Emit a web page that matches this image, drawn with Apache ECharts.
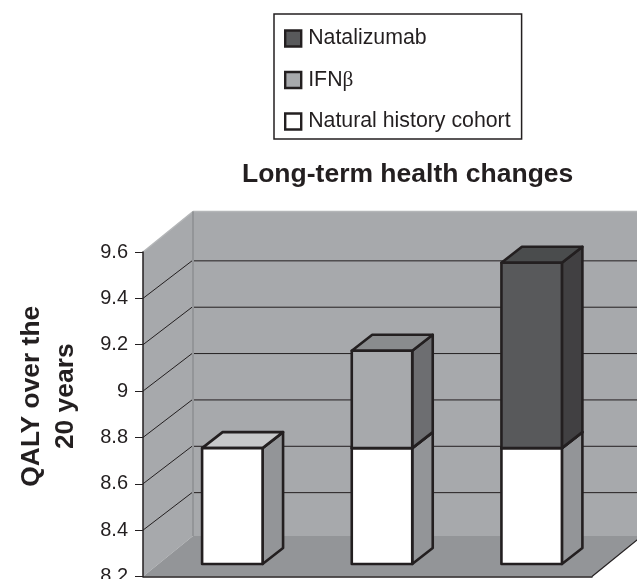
<!DOCTYPE html>
<html>
<head>
<meta charset="utf-8">
<style>html,body{margin:0;padding:0;background:#fff}#c{width:637px;height:579px}</style>
<script src="https://cdn.jsdelivr.net/npm/echarts@6/dist/echarts.min.js"></script>
</head>
<body>
<div id="c"></div>
<script>
const categories = ['Natural history cohort', 'IFNβ', 'Natalizumab'];
const naturalHistory = [8.7, 8.7, 8.7];
const ifnGain = [0, 0.42, 0];
const natalizumabGain = [0, 0, 0.8];
const gridValues = [8.4, 8.6, 8.8, 9.0, 9.2, 9.4];
const seriesNames = ['Natalizumab', 'IFNβ', 'Natural history cohort'];
const axisMin = 8.2, axisMax = 9.6, axisStep = 0.2;

const INK = '#231f20';
const WALL = [50, -40.5], GRIDSHIFT = [49, -37.5], BARSHIFT = [14.5, -12.5], BARDEPTH = [20.5, -16];
const BARFRAC = 0.404;

function poly(points, fill, stroke, width) {
  return { type: 'polygon', shape: { points: points },
    style: { fill: fill, stroke: stroke || null, lineWidth: width || 0, lineJoin: 'round' } };
}
function line(a, b, stroke, width) {
  return { type: 'line', shape: { x1: a[0], y1: a[1], x2: b[0], y2: b[1] },
    style: { stroke: stroke, lineWidth: width, fill: null } };
}
function renderFrame(params, api) {
  const band = api.size([1, 0])[0];
  const bl = api.coord([0, axisMin]), tl = api.coord([0, axisMax]), br0 = api.coord([2, axisMin]);
  const x0 = bl[0] - band / 2, x1 = br0[0] + band / 2, yb = bl[1], yt = tl[1];
  const dx = WALL[0], dy = WALL[1];
  return { type: 'group', children: [
    poly([[x0 + dx, yt + dy], [x1 + dx, yt + dy], [x1 + dx, yb + dy], [x0 + dx, yb + dy]], '#a7a9ac'),
    poly([[x0, yt], [x0 + dx, yt + dy], [x0 + dx, yb + dy], [x0, yb]], '#a7a9ac'),
    poly([[x0, yb], [x1, yb], [x1 + dx, yb + dy], [x0 + dx, yb + dy]], '#939598'),
    line([x0, yt], [x0 + dx, yt + dy], '#b4b6b8', 1.5),
    line([x0 + dx, yt + dy], [x1 + dx, yt + dy], '#b4b6b8', 1.5),
    line([x0 + dx, yt + dy], [x0 + dx, yb + dy], '#939598', 2),
    line([x1, yb], [x1 + dx, yb + dy], INK, 1.2)
  ] };
}
function renderGrid(params, api) {
  const band = api.size([1, 0])[0];
  const p = api.coord([0, api.value(0)]), r = api.coord([2, api.value(0)]);
  const x0 = p[0] - band / 2, x1 = r[0] + band / 2, y = p[1];
  const bx = x0 + GRIDSHIFT[0], by = y + GRIDSHIFT[1];
  return { type: 'group', children: [
    line([x0, y], [bx, by], INK, 1),
    line([bx + 2, by], [x1 + WALL[0], by], INK, 1)
  ] };
}
function barRenderer(front, side, top) {
  return function (params, api) {
    const band = api.size([1, 0])[0];
    const w = band * BARFRAC;
    const lo = api.coord([api.value(0), api.value(1)]);
    const hi = api.coord([api.value(0), api.value(2)]);
    const l = lo[0] - w / 2 + BARSHIFT[0], r = l + w;
    const yb = lo[1] + BARSHIFT[1], yt = hi[1] + BARSHIFT[1];
    const dx = BARDEPTH[0], dy = BARDEPTH[1];
    return { type: 'group', children: [
      poly([[r, yb], [r + dx, yb + dy], [r + dx, yt + dy], [r, yt]], side, INK, 2.6),
      poly([[l, yt], [r, yt], [r + dx, yt + dy], [l + dx, yt + dy]], top, INK, 2.6),
      poly([[l, yb], [r, yb], [r, yt], [l, yt]], front, INK, 2.6)
    ] };
  };
}
function segments(base, gain) {
  const out = [];
  gain.forEach((g, i) => { if (g > 0) out.push([i, base[i], +(base[i] + g).toFixed(2)]); });
  return out;
}
const naturalSeg = naturalHistory.map((v, i) => [i, axisMin, v]);
const ifnSeg = segments(naturalHistory, ifnGain);
const nataSeg = segments(naturalHistory, natalizumabGain);

const chart = echarts.init(document.getElementById('c'), null, { renderer: 'canvas' });
chart.setOption({
  animation: false,
  backgroundColor: '#fff',
  textStyle: { fontFamily: '"Liberation Sans", Arial, sans-serif', color: INK },
  title: {
    text: 'Long-term health changes', left: 242, top: 161,
    padding: 0,
    textStyle: { fontFamily: '"Liberation Sans", Arial, sans-serif', fontWeight: 'bold', fontSize: 26.5, color: INK }
  },
  legend: {
    orient: 'vertical', left: 274, top: 14, selectedMode: false,
    data: seriesNames, icon: 'rect', itemWidth: 16, itemHeight: 16, itemGap: 20.5,
    padding: [14, 11, 7, 10],
    borderColor: INK, borderWidth: 1.5,
    itemStyle: { borderColor: INK, borderWidth: 2.4 },
    formatter: n => n === 'IFNβ' ? 'IFN{g|β}' : n,
    textStyle: { fontFamily: '"Liberation Sans", Arial, sans-serif', fontSize: 21.3, color: INK, lineHeight: 16, padding: [0, 0, 0, 2],
      rich: { g: { fontFamily: '"Liberation Serif", serif', fontSize: 21.3, color: INK, lineHeight: 16 } } }
  },
  grid: { left: 143, right: 45, top: 252, bottom: 2.5, outerBoundsMode: 'none' },
  xAxis: {
    type: 'category', data: categories,
    axisLine: { show: true, lineStyle: { color: INK, width: 1.5 } },
    axisTick: { show: false }, axisLabel: { show: false }, splitLine: { show: false }
  },
  yAxis: {
    type: 'value', min: axisMin, max: axisMax, interval: axisStep,
    name: 'QALY over the\n20 years', nameLocation: 'middle', nameGap: 60, nameRotate: 90,
    nameTextStyle: { fontFamily: '"Liberation Sans", Arial, sans-serif', fontWeight: 'bold', fontSize: 26.4, color: INK, lineHeight: 34, align: 'center', padding: [0, 0, 0, 36] },
    axisLine: { show: true, lineStyle: { color: INK, width: 1.5 } },
    axisTick: { show: true, length: 8, lineStyle: { color: INK, width: 1 } },
    axisLabel: { fontSize: 20, color: INK, margin: 15, hideOverlap: false },
    splitLine: { show: false }
  },
  series: [
    { type: 'custom', silent: true, z: 0, data: [[0]], renderItem: renderFrame, clip: false },
    { type: 'custom', silent: true, z: 1, data: gridValues.map(v => [v]), renderItem: renderGrid, clip: false, encode: { y: 0 } },
    { type: 'custom', name: 'Natural history cohort', z: 2, itemStyle: { color: '#ffffff' }, data: naturalSeg, encode: { x: 0, y: [1, 2] }, clip: false,
      renderItem: barRenderer('#ffffff', '#939598', '#c7c8ca') },
    { type: 'custom', name: 'IFNβ', z: 3, itemStyle: { color: '#a7a9ac' }, data: ifnSeg, encode: { x: 0, y: [1, 2] }, clip: false,
      renderItem: barRenderer('#a7a9ac', '#6d6e71', '#8a8c8e') },
    { type: 'custom', name: 'Natalizumab', z: 3, itemStyle: { color: '#58595b' }, data: nataSeg, encode: { x: 0, y: [1, 2] }, clip: false,
      renderItem: barRenderer('#58595b', '#414042', '#4a4c4d') }
  ]
});
</script>
</body>
</html>
